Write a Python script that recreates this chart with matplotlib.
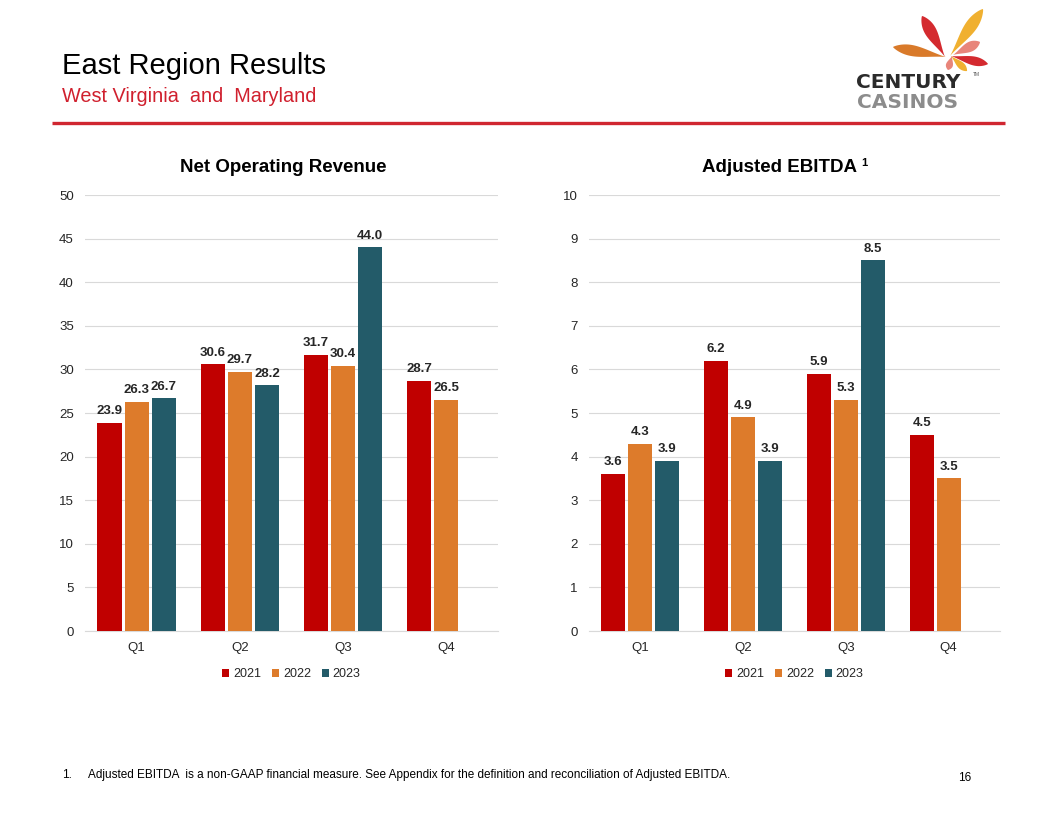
import numpy as np
import matplotlib
matplotlib.use("Agg")
import matplotlib.pyplot as plt
from matplotlib.patches import Polygon

plt.rcParams['font.family'] = ['Liberation Sans', 'DejaVu Sans']

quarters = ["Q1", "Q2", "Q3", "Q4"]
years = ["2021", "2022", "2023"]
revenue_2021 = [23.9, 30.6, 31.7, 28.7]
revenue_2022 = [26.3, 29.7, 30.4, 26.5]
revenue_2023 = [26.7, 28.2, 44.0, None]
ebitda_2021 = [3.6, 6.2, 5.9, 4.5]
ebitda_2022 = [4.3, 4.9, 5.3, 3.5]
ebitda_2023 = [3.9, 3.9, 8.5, None]

colors = ["#C00000", "#DD7B2B", "#235B69"]

W, H = 1056, 816
fig = plt.figure(figsize=(W / 100, H / 100), dpi=100)


def px_axes(x0, y0, x1, y1):
    return fig.add_axes([x0 / W, 1 - y1 / H, (x1 - x0) / W, (y1 - y0) / H])


def bar_chart(ax, series, ymax, ystep):
    x = np.arange(len(quarters))
    bw = 0.234
    step = 0.263
    for i, (vals, col) in enumerate(zip(series, colors)):
        xs = [xx + (i - 1) * step for xx, v in zip(x, vals) if v is not None]
        vs = [v for v in vals if v is not None]
        bars = ax.bar(xs, vs, width=bw, color=col, label=years[i], zorder=3)
        ax.bar_label(bars, labels=[f"{v:.1f}" for v in vs], padding=4,
                     fontsize=9.5, fontweight='bold', color='#262626')
    ax.set_xlim(-0.5, len(quarters) - 0.5)
    ax.set_ylim(0, ymax)
    ax.set_yticks(np.arange(0, ymax + ystep / 2, ystep))
    ax.set_xticks(x)
    ax.set_xticklabels(quarters)
    ax.grid(axis='y', color='#D9D9D9', linewidth=0.8, zorder=0)
    for s in ['top', 'right', 'left']:
        ax.spines[s].set_visible(False)
    ax.spines['bottom'].set_color('#D9D9D9')
    ax.spines['bottom'].set_linewidth(0.8)
    ax.tick_params(axis='both', length=0, labelsize=9.5, colors='#262626')
    ax.tick_params(axis='y', pad=8)
    ax.tick_params(axis='x', pad=8)
    leg = ax.legend(loc='center', bbox_to_anchor=(0.5, -0.099), ncol=3,
                    frameon=False, fontsize=9, handlelength=0.55,
                    handleheight=0.55, handletextpad=0.3, columnspacing=0.9)
    for t in leg.get_texts():
        t.set_color('#262626')


ax1 = px_axes(85, 195, 498, 631)
bar_chart(ax1, [revenue_2021, revenue_2022, revenue_2023], 50, 5)
ax2 = px_axes(589, 195, 1000, 631)
bar_chart(ax2, [ebitda_2021, ebitda_2022, ebitda_2023], 10, 1)

# overlay in pixel coordinates
ov = fig.add_axes([0, 0, 1, 1], zorder=10)
ov.set_xlim(0, W)
ov.set_ylim(H, 0)
ov.axis('off')
ov.patch.set_alpha(0)

ov.text(62, 66, "East Region Results", fontsize=21, color='#000000',
        va='center', ha='left')
ov.text(62, 96, "West Virginia  and  Maryland", fontsize=14.3, color='#D0202E',
        va='center', ha='left')
ov.plot([52, 1005], [122.5, 122.5], color='#D02630', lw=2.4,
        solid_capstyle='butt')

ov.text(283, 168, "Net Operating Revenue", fontsize=13.5, fontweight='bold',
        ha='center', va='center', color='#000000')
ov.text(780, 168, "Adjusted EBITDA", fontsize=13.5, fontweight='bold',
        ha='center', va='center', color='#000000')
ov.text(861, 163, "1", fontsize=8, fontweight='bold', ha='left',
        va='center', color='#000000')

ov.text(62, 775, "1.", fontsize=8.5, ha='left', va='center', color='#000000')
ov.text(88, 775, "Adjusted EBITDA  is a non-GAAP financial measure. See Appendix "
        "for the definition and reconciliation of Adjusted EBITDA.",
        fontsize=8.5, ha='left', va='center', color='#000000')
ov.text(965, 778, "16", fontsize=8.5, ha='center', va='center',
        color='#000000')


# logo petals: teardrop from base (near centre) to tip (outer end)
def petal(x0, y0, x1, y1, thick, col):
    L = np.hypot(x1 - x0, y1 - y0)
    ux, uy = (x1 - x0) / L, (y1 - y0) / L
    nx, ny = -uy, ux
    t = np.linspace(0, 1, 60)
    w = np.sin(np.pi * t ** 1.6) ** 0.8
    w = w / w.max() * thick / 2
    px = x0 + ux * L * t
    py = y0 + uy * L * t
    xs = np.concatenate([px + nx * w, (px - nx * w)[::-1]])
    ys = np.concatenate([py + ny * w, (py - ny * w)[::-1]])
    ov.add_patch(Polygon(np.column_stack([xs, ys]), closed=True, color=col,
                         lw=0, zorder=2))


petal(945, 57, 922, 16, 12, '#D42A2F')
petal(950, 56, 983, 9, 12, '#F0B030')
petal(953, 55, 980, 42, 10, '#E8857A')
petal(946, 57, 893, 47, 11, '#D97A2A')
petal(951, 56, 988, 64, 9, '#D42A2F')
petal(951, 56, 967, 71, 7, '#F0B030')
petal(952, 56, 948, 70, 7, '#E8857A')

ov.text(908, 82, "CENTURY", fontsize=14.5, fontweight='bold',
        family='DejaVu Sans', ha='center', va='center', color='#2B2B2B')
ov.text(908, 103, "CASINOS", fontsize=14.5, fontweight='bold',
        family='DejaVu Sans', ha='center', va='center', color='#8C8C8C')
ov.text(973, 74, "TM", fontsize=3.5, ha='left', va='center', color='#555555')

fig.savefig("out.png", dpi=100, facecolor='white')
